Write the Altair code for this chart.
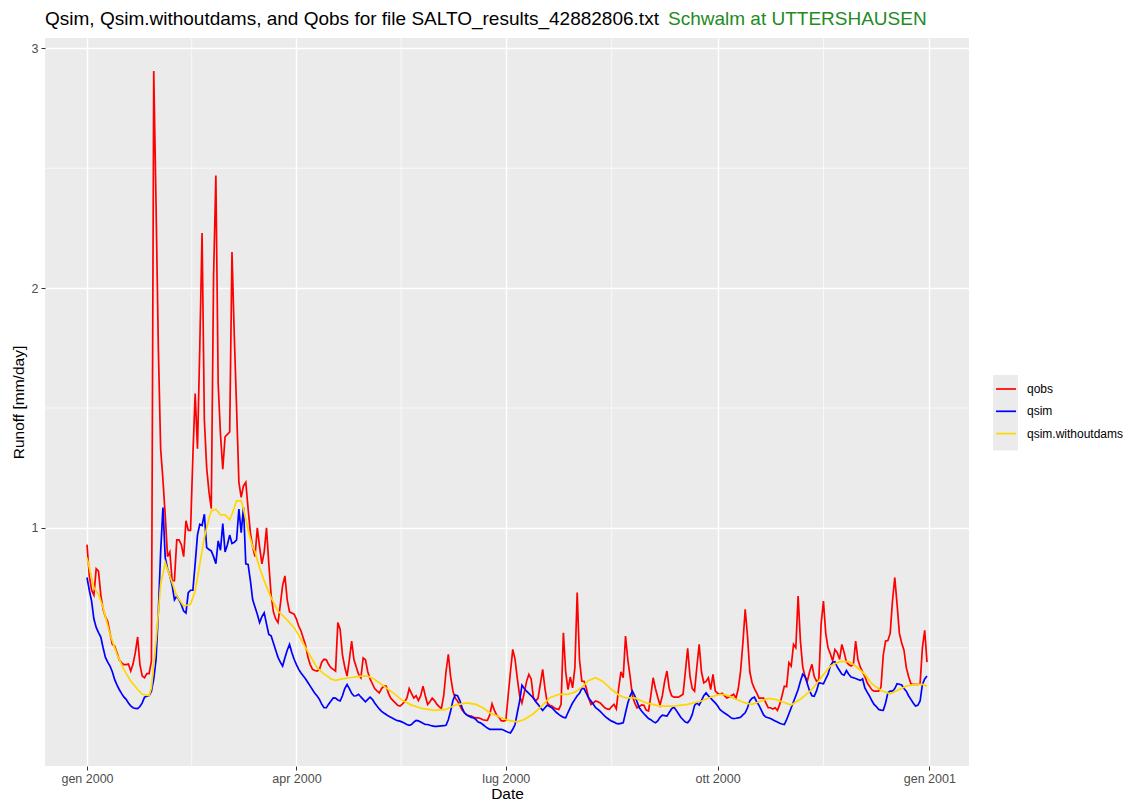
import altair as alt
import pandas as pd

# ---------------- data ----------------
# day index 0 = 2000-01-01
qobs_values = [
    0.93, 0.80, 0.74, 0.72, 0.83, 0.82, 0.72, 0.66, 0.63, 0.61,
    0.56, 0.515, 0.507, 0.48, 0.45, 0.438, 0.43, 0.43, 0.432, 0.403,
    0.432, 0.48, 0.545, 0.43, 0.382, 0.375, 0.392, 0.392, 0.445, 2.905,
    2.35, 1.75, 1.33, 1.2, 1.05, 0.88, 0.9, 0.78, 0.78, 0.95,
    0.95, 0.93, 0.88, 1.03, 0.99, 0.99, 1.3, 1.56, 1.33, 1.75,
    2.23, 1.45, 1.25, 1.15, 1.08, 2.05, 2.47, 1.6, 1.39, 1.245,
    1.38, 1.39, 1.40, 2.15, 1.8, 1.5, 1.19, 1.127, 1.175, 1.19,
    1.08, 0.98, 0.92, 0.88, 1.0, 0.92, 0.85, 0.9, 1.0, 0.85,
    0.72, 0.65, 0.62, 0.605, 0.68, 0.76, 0.8, 0.70, 0.65, 0.645,
    0.64, 0.62, 0.59, 0.57, 0.54, 0.51, 0.46, 0.43, 0.41, 0.405,
    0.403, 0.41, 0.44, 0.452, 0.45, 0.43, 0.417, 0.41, 0.403, 0.605,
    0.577, 0.47, 0.42, 0.382, 0.45, 0.528, 0.45, 0.42, 0.39, 0.375,
    0.458, 0.45, 0.40, 0.37, 0.35, 0.33, 0.32, 0.312, 0.33, 0.34,
    0.34, 0.31, 0.29, 0.28, 0.27, 0.26, 0.257, 0.265, 0.275, 0.29,
    0.33, 0.31, 0.29, 0.30, 0.28, 0.30, 0.34, 0.30, 0.264, 0.275,
    0.29, 0.28, 0.265, 0.255, 0.247, 0.30, 0.40, 0.473, 0.38, 0.32,
    0.29, 0.278, 0.26, 0.24, 0.229, 0.22, 0.216, 0.215, 0.21, 0.208,
    0.208, 0.205, 0.2, 0.198, 0.197, 0.22, 0.266, 0.24, 0.219, 0.21,
    0.196, 0.194, 0.197, 0.30, 0.40, 0.493, 0.452, 0.37, 0.30, 0.27,
    0.312, 0.36, 0.389, 0.37, 0.29, 0.278, 0.29, 0.35, 0.41, 0.33,
    0.27, 0.26, 0.257, 0.25, 0.245, 0.243, 0.264, 0.563, 0.40, 0.326,
    0.378, 0.333, 0.417, 0.73, 0.45, 0.361, 0.36, 0.33, 0.29, 0.264,
    0.27, 0.278, 0.275, 0.27, 0.26, 0.25, 0.245, 0.243, 0.255, 0.264,
    0.245, 0.33, 0.40, 0.375, 0.549, 0.45, 0.38, 0.30, 0.27, 0.25,
    0.255, 0.262, 0.26, 0.24, 0.236, 0.30, 0.375, 0.33, 0.294, 0.261,
    0.30, 0.36, 0.403, 0.33, 0.30, 0.294, 0.294, 0.294, 0.30, 0.306,
    0.40, 0.498, 0.382, 0.33, 0.319, 0.42, 0.514, 0.40, 0.354, 0.36,
    0.375, 0.326, 0.389, 0.319, 0.31, 0.306, 0.31, 0.30, 0.291, 0.295,
    0.30, 0.306, 0.29, 0.33, 0.403, 0.52, 0.66, 0.549, 0.40, 0.354,
    0.33, 0.312, 0.29, 0.29, 0.29, 0.27, 0.25, 0.25, 0.245, 0.25,
    0.239, 0.264, 0.30, 0.34, 0.338, 0.438, 0.424, 0.514, 0.5, 0.716,
    0.528, 0.42, 0.38, 0.361, 0.40, 0.431, 0.38, 0.361, 0.365, 0.6,
    0.695, 0.56, 0.50, 0.475, 0.445, 0.493, 0.48, 0.452, 0.514, 0.48,
    0.44, 0.43, 0.424, 0.43, 0.528, 0.45, 0.42, 0.40, 0.38, 0.354,
    0.34, 0.325, 0.319, 0.319, 0.319, 0.336, 0.47, 0.528, 0.53, 0.56,
    0.695, 0.793, 0.681, 0.56, 0.52, 0.49, 0.417, 0.38, 0.35, 0.347,
    0.347, 0.347, 0.35, 0.50, 0.573, 0.44,
]

qsim_values = [
    0.793, 0.74, 0.695, 0.62, 0.585, 0.563, 0.545, 0.50, 0.46, 0.44,
    0.424, 0.40, 0.368, 0.345, 0.326, 0.31, 0.295, 0.285, 0.27, 0.258,
    0.25, 0.247, 0.246, 0.255, 0.27, 0.294, 0.298, 0.30, 0.319, 0.37,
    0.45, 0.65, 0.9, 1.085, 0.876, 0.83, 0.8, 0.76, 0.70, 0.716,
    0.70, 0.68, 0.653, 0.645, 0.73, 0.74, 0.74, 0.85, 0.97, 1.015,
    1.01, 1.057, 0.918, 0.91, 0.904, 0.88, 0.851, 0.946, 0.907, 1.018,
    0.90, 0.93, 0.97, 0.935, 0.94, 0.95, 1.078, 0.98, 1.085, 0.85,
    0.848, 0.78, 0.70, 0.67, 0.64, 0.605, 0.63, 0.646, 0.60, 0.556,
    0.55, 0.52, 0.49, 0.46, 0.44, 0.424, 0.458, 0.49, 0.514, 0.48,
    0.452, 0.43, 0.41, 0.395, 0.382, 0.37, 0.355, 0.34, 0.325, 0.31,
    0.299, 0.285, 0.265, 0.25, 0.25, 0.265, 0.278, 0.291, 0.29, 0.282,
    0.278, 0.30, 0.33, 0.347, 0.33, 0.31, 0.299, 0.30, 0.306, 0.295,
    0.285, 0.275, 0.285, 0.294, 0.285, 0.27, 0.257, 0.245, 0.235, 0.228,
    0.222, 0.215, 0.21, 0.205, 0.2, 0.196, 0.194, 0.19, 0.185, 0.18,
    0.177, 0.18, 0.19, 0.197, 0.195, 0.19, 0.185, 0.18, 0.18, 0.177,
    0.174, 0.172, 0.172, 0.173, 0.174, 0.175, 0.177, 0.2, 0.236, 0.28,
    0.303, 0.3, 0.28, 0.25, 0.229, 0.22, 0.215, 0.21, 0.208, 0.2,
    0.19, 0.187, 0.18, 0.172, 0.165, 0.16, 0.16, 0.16, 0.16, 0.16,
    0.16, 0.157, 0.152, 0.148, 0.145, 0.16, 0.18, 0.23, 0.278, 0.344,
    0.33, 0.319, 0.31, 0.30, 0.29, 0.275, 0.264, 0.25, 0.239, 0.25,
    0.261, 0.255, 0.25, 0.24, 0.23, 0.222, 0.215, 0.21, 0.208, 0.23,
    0.25, 0.27, 0.285, 0.3, 0.31, 0.331, 0.33, 0.31, 0.29, 0.278,
    0.265, 0.25, 0.243, 0.235, 0.225, 0.215, 0.207, 0.2, 0.194, 0.19,
    0.185, 0.183, 0.185, 0.187, 0.229, 0.27, 0.3, 0.319, 0.3, 0.275,
    0.25, 0.236, 0.225, 0.215, 0.205, 0.2, 0.192, 0.187, 0.195, 0.21,
    0.219, 0.217, 0.215, 0.23, 0.245, 0.253, 0.24, 0.225, 0.21, 0.2,
    0.19, 0.187, 0.2, 0.222, 0.26, 0.27, 0.261, 0.28, 0.3, 0.312,
    0.3, 0.29, 0.28, 0.27, 0.258, 0.243, 0.235, 0.228, 0.222, 0.215,
    0.207, 0.205, 0.206, 0.208, 0.21, 0.22, 0.229, 0.25, 0.278, 0.29,
    0.294, 0.275, 0.26, 0.24, 0.22, 0.211, 0.208, 0.205, 0.2, 0.195,
    0.19, 0.185, 0.182, 0.18, 0.2, 0.225, 0.25, 0.275, 0.3, 0.326,
    0.36, 0.39, 0.38, 0.35, 0.32, 0.3, 0.298, 0.32, 0.354, 0.352,
    0.35, 0.37, 0.39, 0.425, 0.44, 0.442, 0.42, 0.405, 0.39, 0.386,
    0.405, 0.39, 0.378, 0.375, 0.372, 0.368, 0.364, 0.37, 0.333, 0.315,
    0.299, 0.28, 0.264, 0.255, 0.243, 0.24, 0.239, 0.27, 0.312, 0.319,
    0.319, 0.33, 0.35, 0.348, 0.345, 0.33, 0.319, 0.3, 0.285, 0.27,
    0.257, 0.26, 0.278, 0.347, 0.37, 0.382,
]

nodams_days = [
    0, 3, 5, 7, 10, 13, 16, 19, 22, 24, 27, 28, 30, 32, 34, 36, 39, 42, 45, 47,
    49, 51, 53, 54, 56, 58, 60, 62, 63, 65, 67, 68, 70, 72, 73, 75, 77, 80, 83, 87,
    90, 93, 97, 100, 103, 104, 106, 108, 110, 114, 119, 122, 125, 129, 133, 137, 141, 146, 151, 156,
    160, 165, 169, 172, 175, 180, 183, 187, 190, 194, 198, 201, 205, 209, 212, 215, 218, 221, 224, 228,
    231, 234, 238, 243, 249, 255, 261, 267, 271, 275, 278, 282, 286, 289, 293, 296, 299, 302, 306, 310,
    315, 319, 323, 327, 331, 334, 338, 341, 345, 349, 352, 356, 360, 363, 365,
]
nodams_values = [
    0.876, 0.75, 0.723, 0.667, 0.556, 0.473, 0.41, 0.361, 0.326, 0.306, 0.30, 0.333, 0.528, 0.765, 0.855, 0.80, 0.716, 0.674, 0.681, 0.737,
    0.848, 0.96, 1.04, 1.071, 1.078, 1.054, 1.054, 1.035, 1.057, 1.113, 1.113, 1.08, 0.99, 0.92, 0.90, 0.834, 0.779, 0.709, 0.653, 0.615,
    0.584, 0.535, 0.466, 0.417, 0.39, 0.385, 0.37, 0.364, 0.368, 0.375, 0.382, 0.382, 0.368, 0.34, 0.312, 0.281, 0.261, 0.246, 0.239, 0.243,
    0.261, 0.27, 0.264, 0.25, 0.229, 0.208, 0.197, 0.191, 0.201, 0.225, 0.261, 0.291, 0.306, 0.306, 0.315, 0.336, 0.364, 0.375, 0.361, 0.326,
    0.303, 0.291, 0.291, 0.27, 0.257, 0.257, 0.264, 0.278, 0.294, 0.306, 0.303, 0.285, 0.27, 0.264, 0.278, 0.289, 0.285, 0.275, 0.261, 0.285,
    0.326, 0.375, 0.424, 0.442, 0.442, 0.424, 0.389, 0.35, 0.322, 0.308, 0.322, 0.34, 0.347, 0.347, 0.34,
]

series_names = ["qobs", "qsim", "qsim.withoutdams"]
series_colors = ["#FF0000", "#0000FF", "#FFD700"]

x_breaks = ["2000-01-01", "2000-04-01", "2000-07-01", "2000-10-01", "2001-01-01"]
x_minor = ["2000-02-15T12:00:00Z", "2000-05-16T12:00:00Z", "2000-08-16T00:00:00Z", "2000-11-16T00:00:00Z"]
y_breaks = [1, 2, 3]
y_minor = [0.5, 1.5, 2.5]

title_main = "Qsim, Qsim.withoutdams, and Qobs for file SALTO_results_42882806.txt"
title_station = "Schwalm at UTTERSHAUSEN"

# ---------------- build table ----------------
base = pd.Timestamp("2000-01-01")


def day_str(d):
    return (base + pd.Timedelta(days=int(d))).strftime("%Y-%m-%d")


rows = []
for d, v in enumerate(qobs_values):
    rows.append({"date": day_str(d), "value": v, "series": "qobs"})
for d, v in enumerate(qsim_values):
    rows.append({"date": day_str(d), "value": v, "series": "qsim"})
for d, v in zip(nodams_days, nodams_values):
    rows.append({"date": day_str(d), "value": v, "series": "qsim.withoutdams"})
df = pd.DataFrame(rows)

FONT = "Liberation Sans"

x_domain = [
    alt.DateTime(year=1999, month=12, date=13, hours=18, utc=True),
    alt.DateTime(year=2001, month=1, date=18, hours=6, utc=True),
]
x_scale = alt.Scale(type="utc", domain=x_domain, nice=False)
y_scale = alt.Scale(domain=[0.007, 3.043], nice=False, zero=False)

month_expr = (
    "(utcFormat(datum.value, '%m') == '01' ? 'gen' : "
    "utcFormat(datum.value, '%m') == '04' ? 'apr' : "
    "utcFormat(datum.value, '%m') == '07' ? 'lug' : 'ott') + ' ' + utcFormat(datum.value, '%Y')"
)

x_axis = alt.Axis(
    values=[alt.DateTime(year=int(s[:4]), month=int(s[5:7]), date=1, utc=True) for s in x_breaks],
    labelExpr=month_expr,
    grid=True, gridColor="white", gridWidth=1.4,
    domain=False, ticks=True, tickSize=4, tickColor="#333333", tickWidth=1,
    labelFontSize=12.5, labelColor="#4D4D4D", labelPadding=2, labelFont=FONT,
    title="Date", titleFontSize=15.5, titleFontWeight="normal", titleColor="black",
    titleFont=FONT, titlePadding=2,
)
y_axis = alt.Axis(
    values=y_breaks, format="d",
    grid=True, gridColor="white", gridWidth=1.4,
    domain=False, ticks=True, tickSize=4, tickColor="#333333", tickWidth=1,
    labelFontSize=12.5, labelColor="#4D4D4D", labelPadding=3, labelFont=FONT,
    title="Runoff [mm/day]", titleFontSize=15.5, titleFontWeight="normal", titleColor="black",
    titleFont=FONT, titlePadding=5,
)

minor_x = alt.Chart(pd.DataFrame({"date": x_minor})).mark_rule(color="white", strokeWidth=0.7).encode(
    x=alt.X("date:T", scale=x_scale, axis=x_axis)
)
minor_y = alt.Chart(pd.DataFrame({"value": y_minor})).mark_rule(color="white", strokeWidth=0.7).encode(
    y=alt.Y("value:Q", scale=y_scale, axis=y_axis)
)

legend_bg = alt.Chart(pd.DataFrame({"k": [0]})).mark_rect(color="#EBEBEB").encode(
    x=alt.value(948), x2=alt.value(973), y=alt.value(337), y2=alt.value(412.5)
)

lines = alt.Chart(df).mark_line(strokeWidth=1.7, interpolate="linear").encode(
    x=alt.X("date:T", scale=x_scale, axis=x_axis),
    y=alt.Y("value:Q", scale=y_scale, axis=y_axis),
    color=alt.Color(
        "series:N",
        scale=alt.Scale(domain=series_names, range=series_colors),
        legend=alt.Legend(
            title=None, orient="none", legendX=950, legendY=340,
            symbolType="stroke", symbolSize=400, symbolStrokeWidth=1.7,
            labelFontSize=12, labelFont=FONT, labelColor="black",
            labelOffset=10, rowPadding=5.3, padding=0,
        ),
    ),
    order=alt.Order("date:T"),
)

t1 = alt.Chart(pd.DataFrame({"t": [title_main]})).mark_text(
    align="left", baseline="alphabetic", fontSize=19, font=FONT, color="black"
).encode(text="t:N", x=alt.value(0), y=alt.value(-12.7))

t2 = alt.Chart(pd.DataFrame({"t": [title_station]})).mark_text(
    align="left", baseline="alphabetic", fontSize=19, font=FONT, color="#228B22"
).encode(text="t:N", x=alt.value(623), y=alt.value(-12.7))

chart = alt.layer(minor_x, minor_y, legend_bg, lines, t1, t2).properties(
    width=924,
    height=728,
    padding={"left": 37, "top": 30, "right": 157, "bottom": 35},
    autosize=alt.AutoSizeParams(type="none"),
    background="white",
).configure_view(fill="#EBEBEB", strokeWidth=0)

chart.save("out.html", embed_options={"renderer": "svg", "actions": False})
